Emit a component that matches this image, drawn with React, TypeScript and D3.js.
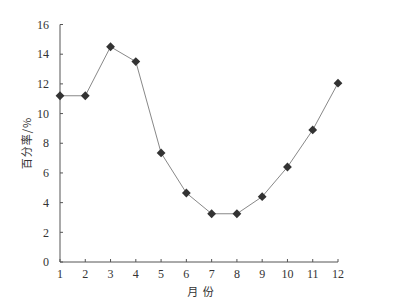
import React from "react";
import * as d3 from "d3";

const months = [1, 2, 3, 4, 5, 6, 7, 8, 9, 10, 11, 12];
const rates = [11.2, 11.2, 14.5, 13.5, 7.35, 4.65, 3.25, 3.25, 4.4, 6.4, 8.9, 12.05];
const yTicks = [0, 2, 4, 6, 8, 10, 12, 14, 16];
const xLabel = "月 份";
const yLabel = "百分率/%";

export default function App() {
  const W = 403, H = 303;
  const x = d3.scaleLinear().domain([1, 12]).range([60, 338]);
  const y = d3.scaleLinear().domain([0, 16]).range([262, 24.5]);
  const line = d3
    .line<number>()
    .x((_, i) => x(months[i]))
    .y((d) => y(d))
    .curve(d3.curveLinear);
  const font = "'Liberation Serif', 'DejaVu Serif', serif";
  const axisColor = "#555";
  return (
    <svg width={W} height={H} style={{ position: "absolute", left: 0, top: 0, background: "#fff" }}>
      <rect width={W} height={H} fill="#fff" />
      <line x1={x(1)} x2={x(1)} y1={y(16)} y2={y(0)} stroke={axisColor} strokeWidth={1} />
      <line x1={x(1)} x2={x(12)} y1={y(0)} y2={y(0)} stroke={axisColor} strokeWidth={1} />
      {yTicks.map((t) => (
        <g key={"y" + t}>
          <line x1={x(1)} x2={x(1) + 3} y1={y(t)} y2={y(t)} stroke={axisColor} />
          <text x={49} y={y(t)} dy="0.35em" textAnchor="end" fontFamily={font} fontSize={12} fill="#333">
            {t}
          </text>
        </g>
      ))}
      {months.map((m) => (
        <g key={"x" + m}>
          <line x1={x(m)} x2={x(m)} y1={y(0)} y2={y(0) - 3} stroke={axisColor} />
          <text x={x(m)} y={278} textAnchor="middle" fontFamily={font} fontSize={12} fill="#333">
            {m}
          </text>
        </g>
      ))}
      <path d={line(rates) || ""} fill="none" stroke="#888" strokeWidth={1} />
      {rates.map((v, i) => {
        const cx = x(months[i]);
        const cy = y(v);
        const s = 4.4;
        return (
          <path
            key={"m" + i}
            d={`M${cx},${cy - s}L${cx + s},${cy}L${cx},${cy + s}L${cx - s},${cy}Z`}
            fill="#333"
          />
        );
      })}
      <text x={201} y={296} textAnchor="middle" fontFamily="'Noto Sans CJK SC', sans-serif" fontSize={11} letterSpacing={1} fill="#333">
        {xLabel}
      </text>
      <text
        transform={`translate(31,${143}) rotate(-90)`}
        textAnchor="middle"
        fontFamily="'Noto Sans CJK SC', sans-serif"
        fontSize={11}
        letterSpacing={1}
        fill="#333"
      >
        {yLabel}
      </text>
    </svg>
  );
}
